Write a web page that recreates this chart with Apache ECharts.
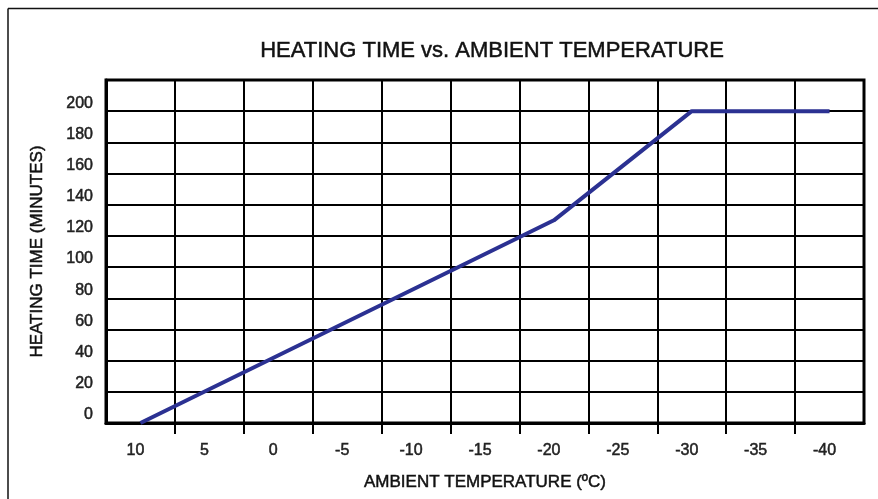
<!DOCTYPE html>
<html>
<head>
<meta charset="utf-8">
<script src="https://cdn.jsdelivr.net/npm/echarts@6/dist/echarts.min.js"></script>
<style>
  html, body { margin: 0; padding: 0; background: #fff; }
  #chart { width: 878px; height: 499px; }
</style>
</head>
<body>
<div id="chart"></div>
<script>
// tick labels along the bottom (one per 5 degC cell)
var tempLabels = ['10', '5', '0', '-5', '-10', '-15', '-20', '-25', '-30', '-35', '-40'];
// cell borders that carry a tick mark below the axis
var tickTemps = [7.5, 2.5, -2.5, -7.5, -12.5, -17.5, -22.5, -27.5, -32.5, -37.5];
// heating curve: temperature (degC) and heating time (minutes)
var curveTemps = [10, -20, -30, -40];
var curveMinutes = [0, 130, 200, 200];

var FONT = 'Liberation Sans, Arial, sans-serif';
// slightly heavier text, like the scanned original
var heavy = { textBorderColor: '#222', textBorderWidth: 0.5 };

var chart = echarts.init(document.getElementById('chart'));

var option = {
  backgroundColor: '#fff',
  animation: false,
  title: {
    text: 'HEATING TIME vs. AMBIENT TEMPERATURE',
    left: 487,
    textAlign: 'center',
    top: 35,
    textStyle: Object.assign({ fontFamily: FONT, fontSize: 22, fontWeight: 'normal', color: '#111' }, heavy)
  },
  graphic: [
    // partial frame around the figure (left + top only)
    { type: 'line', shape: { x1: 8, y1: 8.5, x2: 878, y2: 8.5 }, style: { stroke: '#111', lineWidth: 1.5 } },
    { type: 'line', shape: { x1: 8, y1: 8.5, x2: 8, y2: 499 }, style: { stroke: '#111', lineWidth: 1.5 } }
  ],
  grid: {
    left: 106, top: 80, right: 14, bottom: 76,
    show: true, borderColor: '#000', borderWidth: 3
  },
  xAxis: [
    {
      type: 'category',
      data: tempLabels,
      boundaryGap: true,
      name: 'AMBIENT TEMPERATURE (ºC)',
      nameLocation: 'middle',
      nameGap: 51,
      nameTextStyle: Object.assign({ fontFamily: FONT, fontSize: 17, color: '#111' }, heavy),
      axisLine: { onZero: false, lineStyle: { color: '#000', width: 3 } },
      axisTick: { show: false },
      axisLabel: Object.assign({ fontFamily: FONT, fontSize: 16, color: '#222', margin: 20, padding: [0, 10, 0, 0] }, heavy),
      splitLine: { show: true, interval: 0, lineStyle: { color: '#000', width: 2 } }
    },
    {
      type: 'value',
      inverse: true,
      min: -42.5,
      max: 12.5,
      position: 'bottom',
      axisLine: { show: false, onZero: false },
      axisLabel: { show: false },
      axisTick: {
        show: true, length: 11, customValues: tickTemps,
        lineStyle: { color: '#000', width: 2 }
      },
      splitLine: { show: false }
    }
  ],
  yAxis: {
    type: 'value',
    min: 0,
    max: 220,
    interval: 20,
    name: 'HEATING TIME (MINUTES)',
    nameLocation: 'middle',
    nameGap: 60,
    nameTextStyle: Object.assign({ fontFamily: FONT, fontSize: 17, color: '#111' }, heavy),
    axisLine: { show: true, onZero: false, lineStyle: { color: '#000', width: 3 } },
    axisTick: { show: false },
    axisLabel: Object.assign({
      fontFamily: FONT, fontSize: 16, color: '#222', margin: 13,
      verticalAlign: 'bottom',
      formatter: function (v) { return v > 200 ? '' : String(v); }
    }, heavy),
    splitLine: { show: true, lineStyle: { color: '#000', width: 2 } }
  },
  series: [{
    type: 'line',
    xAxisIndex: 1,
    data: curveTemps.map(function (t, i) { return [t, curveMinutes[i]]; }),
    symbol: 'none',
    lineStyle: { color: '#2b3192', width: 4 },
    z: 5
  }]
};

chart.setOption(option);
</script>
</body>
</html>
